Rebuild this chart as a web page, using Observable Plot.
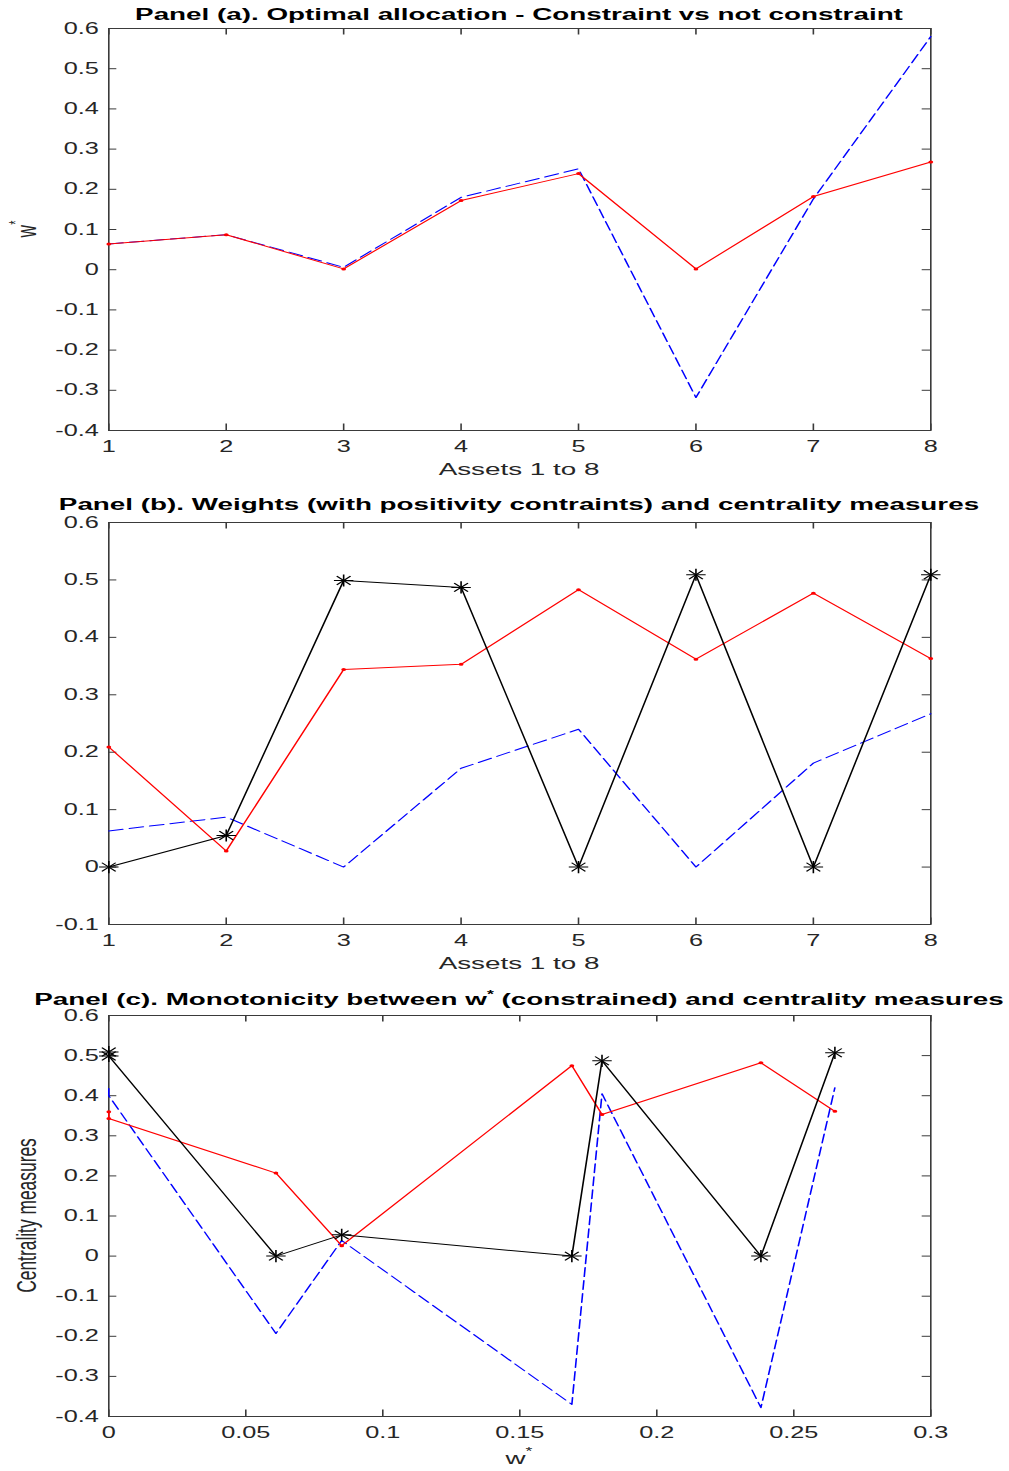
<!DOCTYPE html>
<html><head><meta charset="utf-8">
<script src="https://cdn.jsdelivr.net/npm/d3@7"></script>
<script src="https://cdn.jsdelivr.net/npm/@observablehq/plot@0.6"></script>
<style>
body{margin:0;background:#fff;}
#page{position:relative;width:1009px;height:1471px;overflow:hidden;background:#fff;}
.panel{position:absolute;left:0;width:1009px;}
.panel svg{transform:scaleX(1.599049);transform-origin:0 0;display:block;overflow:visible;max-width:none !important;}
</style></head><body><div id="page"></div>
<script>
// ---------- data ----------
const assets = [1, 2, 3, 4, 5, 6, 7, 8];
const assetTickLabels = ["1", "2", "3", "4", "5", "6", "7", "8"];

// Panel (a)
const wConstrained   = [0.064, 0.087, 0.002, 0.172, 0.239, 0.002, 0.182, 0.268];
const wUnconstrained = [0.064, 0.087, 0.006, 0.180, 0.251, -0.318, 0.176, 0.580];
const yTicksA = [-0.4, -0.3, -0.2, -0.1, 0, 0.1, 0.2, 0.3, 0.4, 0.5, 0.6];
const yTickLabelsA = ["-0.4", "-0.3", "-0.2", "-0.1", "0", "0.1", "0.2", "0.3", "0.4", "0.5", "0.6"];

// Panel (b)
const centralityStar = [0.000, 0.055, 0.499, 0.487, 0.000, 0.509, 0.000, 0.509];
const centralityRed  = [0.209, 0.028, 0.344, 0.353, 0.483, 0.362, 0.477, 0.363];
const weightsB       = [0.063, 0.087, 0.000, 0.172, 0.240, 0.000, 0.181, 0.267];
const yTicksB = [-0.1, 0, 0.1, 0.2, 0.3, 0.4, 0.5, 0.6];
const yTickLabelsB = ["-0.1", "0", "0.1", "0.2", "0.3", "0.4", "0.5", "0.6"];

// Panel (c)
const wSorted   = [0, 0, 0.061, 0.085, 0.169, 0.180, 0.238, 0.265];
const cStar     = [0.509, 0.499, 0.000, 0.053, 0.000, 0.487, 0.000, 0.507];
const cRed      = [0.360, 0.343, 0.207, 0.026, 0.475, 0.353, 0.482, 0.361];
const cBlue     = [0.418, 0.400, -0.193, 0.039, -0.370, 0.405, -0.378, 0.420];
const xTicksC = [0, 0.05, 0.1, 0.15, 0.2, 0.25, 0.3];
const xTickLabelsC = ["0", "0.05", "0.1", "0.15", "0.2", "0.25", "0.3"];
const yTicksC = yTicksA;
const yTickLabelsC = yTickLabelsA;

// ---------- layout ----------
const W0 = 631, S = 1009 / 631;
const ML = 108 / S, MR = W0 - 930 / S;
const IW = W0 - ML - MR;
const CX = ML + IW / 2;
const axisColor = "#3a3a3a";
const textColor = "#262626";
const FONT = "'Liberation Sans', Arial, Helvetica, sans-serif";

const fmt = (ticks, labels) => d => {
  const i = ticks.findIndex(t => Math.abs(t - d) < 1e-9);
  return i >= 0 ? labels[i] : "";
};

const zip = (xs, ys) => xs.map((x, i) => ({x, y: ys[i]}));

function stars(data) {
  return [
    Plot.dot(data, {x: "x", y: "y", symbol: "plus", r: 4, stroke: "black", strokeWidth: 1}),
    Plot.dot(data, {x: "x", y: "y", symbol: "times", r: 4, stroke: "black", strokeWidth: 1})
  ];
}
function redSeries(data) {
  return [
    Plot.line(data, {x: "x", y: "y", stroke: "#ff0000", strokeWidth: 1}),
    Plot.dot(data, {x: "x", y: "y", r: 1.5, fill: "#ff0000"})
  ];
}
function blueDashed(data) {
  return Plot.line(data, {x: "x", y: "y", stroke: "#0000ff", strokeWidth: 1, strokeDasharray: "9,4"});
}

// rich text helper: parts = [{text, sup}]
function richText(sel, parts, supSize, supDy) {
  let raised = false;
  parts.forEach(p => {
    const ts = sel.append("tspan").text(p.text);
    if (p.sup) { ts.attr("dy", supDy).attr("font-size", supSize); raised = true; }
    else if (raised) { ts.attr("dy", -supDy); raised = false; }
  });
}

function makePanel(o) {
  const ih = o.height - o.marginTop - o.marginBottom;
  const svg = Plot.plot({
    width: W0, height: o.height,
    marginTop: o.marginTop, marginBottom: o.marginBottom, marginLeft: ML, marginRight: MR,
    style: {fontFamily: FONT, fontSize: "15.8px", color: textColor, background: "white", overflow: "visible"},
    x: {domain: o.xDomain, ticks: o.xTicks, tickFormat: fmt(o.xTicks, o.xLabels), tickSize: 0, tickPadding: 10, label: null},
    y: {domain: o.yDomain, ticks: o.yTicks, tickFormat: fmt(o.yTicks, o.yLabels), tickSize: 0, tickPadding: 6.2, label: null},
    marks: [
      Plot.frame({stroke: axisColor}),
      Plot.tickX(o.xTicks, {x: d => d, insetTop: ih - 6.5, stroke: axisColor}),
      Plot.tickX(o.xTicks, {x: d => d, insetBottom: ih - 6.5, stroke: axisColor}),
      Plot.tickY(o.yTicks, {y: d => d, insetRight: IW - 5.2, stroke: axisColor}),
      Plot.tickY(o.yTicks, {y: d => d, insetLeft: IW - 5.2, stroke: axisColor}),
      ...o.marks
    ]
  });
  const div = document.createElement("div");
  div.className = "panel";
  div.style.top = o.top + "px";
  div.appendChild(svg);
  document.getElementById("page").appendChild(div);

  const s = d3.select(svg);
  // title
  const t = s.append("text").attr("x", CX).attr("y", o.titleY).attr("text-anchor", "middle")
    .attr("font-family", FONT).attr("font-weight", "bold").attr("font-size", 17.4).attr("fill", "#000");
  richText(t, o.title, 11, -7);
  // x label
  const xl = s.append("text").attr("x", CX).attr("y", o.xLabelY).attr("text-anchor", "middle")
    .attr("font-family", FONT).attr("font-size", 17.4).attr("fill", textColor);
  richText(xl, o.xLabel, 11, -9);
  // y label
  if (o.yLabel) {
    const cy = o.marginTop + ih / 2;
    const yl = s.append("text").attr("transform", `translate(22.5,${cy}) rotate(-90)`).attr("text-anchor", "middle")
      .attr("font-family", FONT).attr("font-size", 17.4).attr("fill", textColor);
    richText(yl, o.yLabel, 11, -9);
  }
  return svg;
}

// Panel (a)
makePanel({
  top: 0, height: 490, marginTop: 28, marginBottom: 60,
  xDomain: [1, 8], xTicks: assets, xLabels: assetTickLabels,
  yDomain: [-0.4, 0.6], yTicks: yTicksA, yLabels: yTickLabelsA,
  titleY: 20, title: [{text: "Panel (a). Optimal allocation - Constraint vs not constraint"}],
  xLabelY: 475, xLabel: [{text: "Assets 1 to 8"}],
  yLabel: [{text: "w"}, {text: "*", sup: true}],
  marks: [
    blueDashed(zip(assets, wUnconstrained)),
    ...redSeries(zip(assets, wConstrained))
  ]
});

// Panel (b)
makePanel({
  top: 490, height: 490, marginTop: 32, marginBottom: 56,
  xDomain: [1, 8], xTicks: assets, xLabels: assetTickLabels,
  yDomain: [-0.1, 0.6], yTicks: yTicksB, yLabels: yTickLabelsB,
  titleY: 20.5, title: [{text: "Panel (b). Weights (with positivity contraints) and centrality measures"}],
  xLabelY: 479, xLabel: [{text: "Assets 1 to 8"}],
  yLabel: null,
  marks: [
    blueDashed(zip(assets, weightsB)),
    ...redSeries(zip(assets, centralityRed)),
    Plot.line(zip(assets, centralityStar), {x: "x", y: "y", stroke: "#000", strokeWidth: 1}),
    ...stars(zip(assets, centralityStar))
  ]
});

// Panel (c)
makePanel({
  top: 980, height: 491, marginTop: 35, marginBottom: 55,
  xDomain: [0, 0.3], xTicks: xTicksC, xLabels: xTickLabelsC,
  yDomain: [-0.4, 0.6], yTicks: yTicksC, yLabels: yTickLabelsC,
  titleY: 25.5, title: [{text: "Panel (c). Monotonicity between w"}, {text: "*", sup: true}, {text: " (constrained) and centrality measures"}],
  xLabelY: 484, xLabel: [{text: "w"}, {text: "*", sup: true}],
  yLabel: [{text: "Centrality measures"}],
  marks: [
    blueDashed(zip(wSorted, cBlue)),
    ...redSeries(zip(wSorted, cRed)),
    Plot.line(zip(wSorted, cStar), {x: "x", y: "y", stroke: "#000", strokeWidth: 1}),
    ...stars(zip(wSorted, cStar))
  ]
});
</script></body></html>
